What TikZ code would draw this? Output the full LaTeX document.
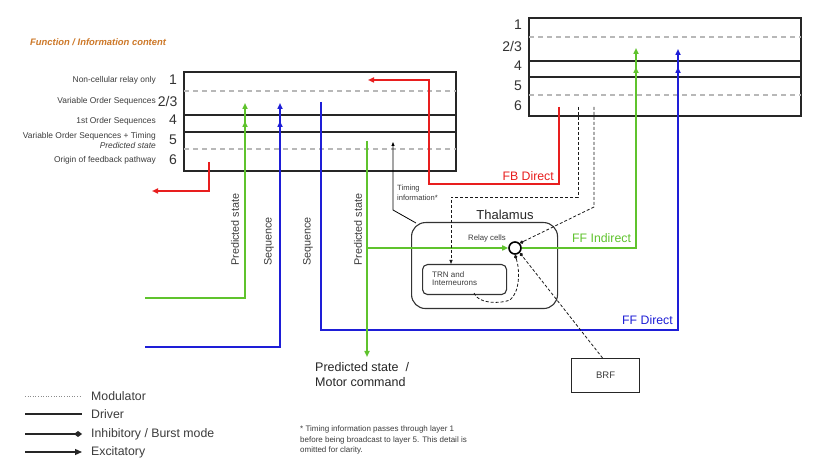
\documentclass[tikz,border=0pt]{standalone}
\usepackage{fontspec}
\setmainfont{Liberation Sans}
\usetikzlibrary{arrows.meta,calc}
\definecolor{grn}{RGB}{95,195,45}
\definecolor{blu}{RGB}{30,30,215}
\definecolor{rd}{RGB}{232,30,30}
\definecolor{org}{RGB}{205,120,40}
\definecolor{txt}{RGB}{60,60,60}
\begin{document}
\begin{tikzpicture}[x=1pt,y=-1pt,
  fs/.style={font=\fontsize{#1}{#1}\selectfont},
  layerbox/.style={draw=black!85,line width=1.6pt},
  gdash/.style={draw=black!28,line width=1.2pt,dash pattern=on 5pt off 4pt},
  gl/.style={draw=grn,line width=1.5pt},
  bl/.style={draw=blu,line width=1.5pt},
  rl/.style={draw=rd,line width=1.5pt},
  exc/.style={-{Triangle[length=6pt,width=5pt]}},
  head/.style={-{Triangle[length=6pt,width=5pt]}},
  modl/.style={draw=black!90,line width=0.8pt,dash pattern=on 3pt off 2pt},
  inh/.style={-{Diamond[length=4.5pt,width=3.5pt]}},
  lab/.style={text=txt,inner sep=0pt},
]
\useasboundingbox[fill=white] (0,0) rectangle (820,470);

% title
\node[lab,text=org,anchor=west,font=\fontsize{9.4}{9.4}\selectfont\bfseries\itshape] (title) at (30,42) {Function / Information content};

% ---------- left cortical column ----------
\draw[layerbox] (184,72) rectangle (456,171);
\draw[gdash] (184,91) -- (456,91);
\draw[gdash] (184,149) -- (456,149);
\draw[layerbox,line width=1.4pt] (184,115) -- (456,115);
\draw[layerbox,line width=1.4pt] (184,132) -- (456,132);

\node[lab,fs=8.4,anchor=east] (l1t) at (156,80) {Non-cellular relay only};
\node[lab,fs=8.4,anchor=east] (l23t) at (156,101) {Variable Order Sequences};
\node[lab,fs=8.4,anchor=east] (l4t) at (156,121) {1st Order Sequences};
\node[lab,fs=8.4,anchor=east] (l5t) at (156,136) {Variable Order Sequences + Timing};
\node[lab,anchor=east,font=\fontsize{8.4}{8.4}\selectfont\itshape] (l5p) at (156,146) {Predicted state};
\node[lab,fs=8.4,anchor=east] (l6t) at (156,160) {Origin of feedback pathway};
\node[lab,fs=14,anchor=east,text=black!80] (n1) at (177,80) {1};
\node[lab,fs=14,anchor=east,text=black!80] (n23) at (177.5,101) {2/3};
\node[lab,fs=14,anchor=east,text=black!80] (n4) at (177,120) {4};
\node[lab,fs=14,anchor=east,text=black!80] (n5) at (177,140) {5};
\node[lab,fs=14,anchor=east,text=black!80] (n6) at (177,160) {6};

% ---------- right cortical column ----------
\draw[layerbox] (529,18) rectangle (801,116);
\draw[gdash] (529,37) -- (801,37);
\draw[gdash] (529,95) -- (801,95);
\draw[layerbox,line width=1.4pt] (529,61) -- (801,61);
\draw[layerbox,line width=1.4pt] (529,77) -- (801,77);
\node[lab,fs=14,anchor=east,text=black!80] (r1) at (522,25) {1};
\node[lab,fs=14,anchor=east,text=black!80] (r23) at (522,46) {2/3};
\node[lab,fs=14,anchor=east,text=black!80] (r4) at (522,66) {4};
\node[lab,fs=14,anchor=east,text=black!80] (r5) at (522,86) {5};
\node[lab,fs=14,anchor=east,text=black!80] (r6) at (522,106) {6};

% ---------- thalamus ----------
\node[draw=black!80,line width=1.1pt,rounded corners=14pt,minimum width=146pt,minimum height=86pt,anchor=north west] (thal) at (411,222) {};
\node[lab,fs=13,text=black!85] (thallab) at (505,215) {Thalamus};
\node[draw=black!80,line width=1.1pt,rounded corners=5pt,minimum width=84pt,minimum height=30pt,anchor=north west] (trn) at (422,264) {};
\node[lab,fs=8,align=left,anchor=west] (trnlab) at (432,279) {TRN and\\Interneurons};
\node[draw=black,line width=1.6pt,circle,minimum size=12pt,inner sep=0pt] (relay) at (515,248) {};
\node[lab,fs=7.8] (relaylab) at (487,238) {Relay cells};

\node[draw=black!85,line width=1.1pt,minimum width=68pt,minimum height=34pt,anchor=north west] (brf) at (571,358) {};
\node[lab,fs=9.5] at (brf.center) {BRF};

% ---------- coordinates ----------
\coordinate (psA) at (145,298);
\coordinate (psB) at (245,298);
\coordinate (psT) at (245,103);
\coordinate (psM) at (245,121);
\coordinate (sqA) at (145,347);
\coordinate (sqB) at (280,347);
\coordinate (sqT) at (280,103);
\coordinate (sqM) at (280,121);
\coordinate (ffdA) at (321,102);
\coordinate (ffdB) at (321,330);
\coordinate (ffdC) at (678,330);
\coordinate (ffdT) at (678,49);
\coordinate (ffdM) at (678,67);
\coordinate (pgT) at (367,141);
\coordinate (pgB) at (367,357);
\coordinate (pgH) at (367,248);
\coordinate (ffiC) at (636,248);
\coordinate (ffiT) at (636,48);
\coordinate (ffiM) at (636,67);
\coordinate (rlA) at (209,162);
\coordinate (rlB) at (209,191);
\coordinate (rlE) at (152,191);
\coordinate (fbA) at (559,107);
\coordinate (fbB) at (559,184);
\coordinate (fbC) at (429,184);
\coordinate (fbD) at (429,80);
\coordinate (fbE) at (368,80);
\coordinate (tmS) at (416,223);
\coordinate (tmA) at (393,210);
\coordinate (tmT) at (393,142);
\coordinate (mdA) at (578,107);
\coordinate (mdB) at (578,197);
\coordinate (mdC) at (451,197);
\coordinate (mdD) at (594,107);
\coordinate (mdE) at (594,207);
\coordinate (trnS) at (474,293);

% ---------- connectors ----------
\draw[gl,exc] (psA) -- (psB) -- (psT);
\draw[gl,head] ($(psM)+(0,10)$) -- (psM);
\draw[bl,exc] (sqA) -- (sqB) -- (sqT);
\draw[bl,head] ($(sqM)+(0,10)$) -- (sqM);
\draw[bl,exc] (ffdA) -- (ffdB) -- (ffdC) -- (ffdT);
\draw[bl,head] ($(ffdM)+(0,10)$) -- (ffdM);
\draw[gl,exc] (pgT) -- (pgB);
\draw[gl,exc] (pgH) -- (relay.west);
\draw[gl,exc] (relay.east) -- (ffiC) -- (ffiT);
\draw[gl,head] ($(ffiM)+(0,10)$) -- (ffiM);
\draw[rl,exc] (rlA) -- (rlB) -- (rlE);
\draw[rl,exc] (fbA) -- (fbB) -- (fbC) -- (fbD) -- (fbE);
\draw[draw=black,line width=0.8pt,-{Triangle[length=4pt,width=3pt]}] (tmS) -- (tmA) -- (tmT);
\draw[modl,-{Triangle[length=4pt,width=3pt]}] (mdA) -- (mdB) -- (mdC) -- (trn.north -| mdC);
\draw[modl,inh] (mdD) -- (mdE) -- (relay.north east);
\draw[modl,inh] ($(brf.north)+(-3,0)$) -- (relay.south east);
\draw[modl,inh] (trnS) .. controls (478,304) and (500,304) .. (510,300)
   .. controls (520,292) and (520,270) .. (relay.south);

% ---------- labels ----------
\node[lab,fs=10.8,rotate=90,anchor=west] (lps1) at (235,266) {Predicted state};
\node[lab,fs=10.8,rotate=90,anchor=west] (lsq1) at (269,266) {Sequence};
\node[lab,fs=10.8,rotate=90,anchor=west] (lsq2) at (308,266) {Sequence};
\node[lab,fs=10.8,rotate=90,anchor=west] (lps2) at (358,266) {Predicted state};
\node[lab,align=left,anchor=west,font=\fontsize{7.6}{9.5}\selectfont] (tmlab) at (397,193) {Timing\\information*};
\node[lab,fs=12.3,text=rd,anchor=east] (fblab) at (554,176) {FB Direct};
\node[lab,fs=12.3,text=grn,anchor=west] (ffilab) at (572,238) {FF Indirect};
\node[lab,fs=12.3,text=blu,anchor=west] (ffdlab) at (622,320) {FF Direct};
\node[lab,align=left,anchor=north west,text=black!85,font=\fontsize{12.5}{15}\selectfont] (out) at (315,362) {Predicted state~~/\\Motor command};

\node[lab,align=left,anchor=north west,font=\fontsize{8}{10.5}\selectfont] (foot) at (300,426) {* Timing information passes through layer 1\\before being broadcast to layer 5. This detail is\\omitted for clarity.};

% ---------- legend ----------
\coordinate (lg1a) at (25,396); \coordinate (lg1b) at (82,396);
\coordinate (lg2a) at (25,414); \coordinate (lg2b) at (82,414);
\coordinate (lg3a) at (25,434); \coordinate (lg3b) at (82,434);
\coordinate (lg4a) at (25,452); \coordinate (lg4b) at (82,452);
\draw[black!45,line width=0.6pt,dotted] (lg1a) -- (lg1b);
\draw[black!85,line width=1.2pt] (lg2a) -- (lg2b);
\draw[black!85,line width=1.2pt,-{Diamond[length=8pt,width=6pt]}] (lg3a) -- (lg3b);
\draw[black!85,line width=1.2pt,-{Triangle[length=7pt,width=6pt]}] (lg4a) -- (lg4b);
\node[lab,fs=12.3,anchor=west] (lgt1) at (91,396) {Modulator};
\node[lab,fs=12.3,anchor=west] (lgt2) at (91,414) {Driver};
\node[lab,fs=12.3,anchor=west] (lgt3) at (91,434) {Inhibitory / Burst mode};
\node[lab,fs=12.3,anchor=west] (lgt4) at (91,452) {Excitatory};
\end{tikzpicture}
\end{document}
